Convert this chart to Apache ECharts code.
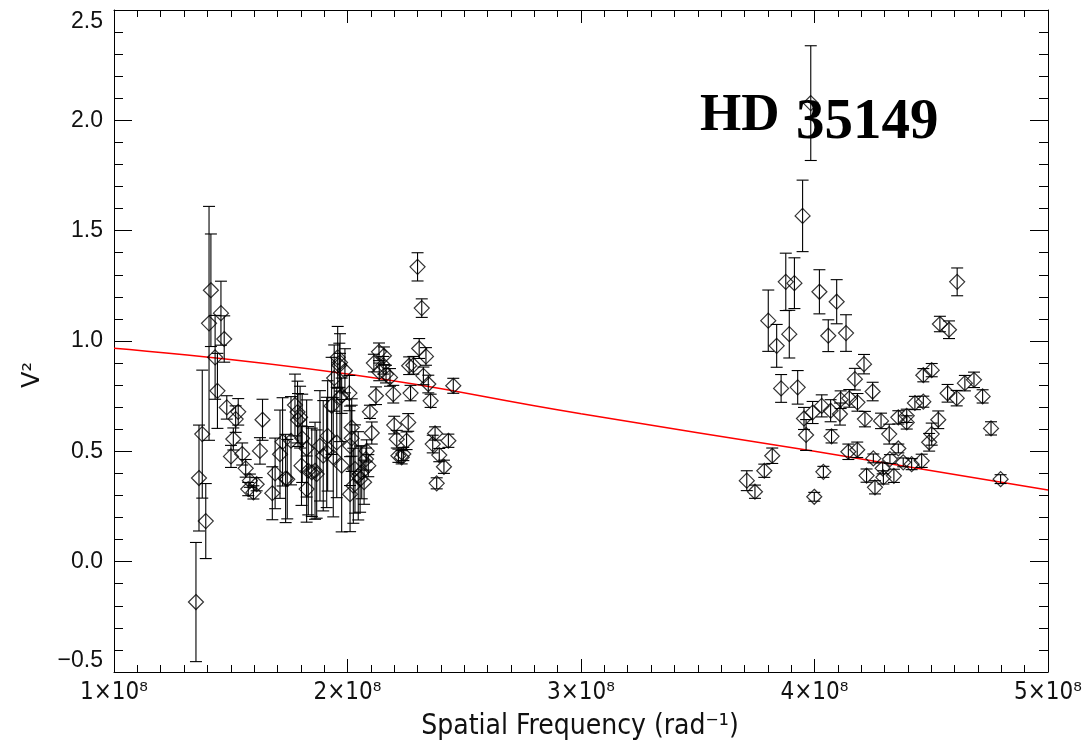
<!DOCTYPE html>
<html lang="en">
<head>
<meta charset="UTF-8">
<title>HD 35149 V2</title>
<script src="https://cdn.jsdelivr.net/npm/echarts@6/dist/echarts.min.js"></script>
<style>
  html, body { margin: 0; padding: 0; background: #fff; }
  #chart { width: 1090px; height: 748px; }
</style>
</head>
<body>
<div id="chart"></div>
<script>
// spatial frequency, in units of 1e8 rad^-1
const freq = [
  1.351, 1.364, 1.378, 1.393, 1.407, 1.415, 1.433, 1.443, 1.458, 1.472,
  1.483, 1.532, 1.521, 1.511, 1.501, 1.549, 1.564, 1.582, 1.575, 1.597,
  1.611, 1.636, 1.625, 1.678, 1.690, 1.711, 1.722, 1.735, 1.758, 1.742,
  1.775, 1.786, 1.797, 1.788, 1.806, 1.825, 1.803, 1.832, 1.847, 1.861,
  1.868, 1.825, 1.882, 1.896, 1.911, 1.915, 1.932, 1.939, 1.954, 1.943,
  1.958, 1.968, 1.968, 1.975, 1.965, 1.989, 1.975, 2.008, 2.018, 2.018,
  2.011, 2.032, 2.046, 2.061, 2.054, 2.025, 2.011, 2.082, 2.079, 2.089,
  2.071, 2.096, 2.104, 2.122, 2.135, 2.156, 2.113, 2.153, 2.136, 2.165,
  2.182, 2.196, 2.200, 2.211, 2.218, 2.232, 2.239, 2.253, 2.260, 2.264,
  2.270, 2.282, 2.300, 2.318, 2.307, 2.336, 2.325, 2.346, 2.356, 2.375,
  2.365, 2.393, 2.413, 2.382, 2.432, 2.453,
  3.710, 3.745, 3.785, 3.819, 3.802, 3.838, 3.857, 3.877, 3.892, 3.914,
  3.928, 3.949, 3.955, 3.964, 3.984, 3.992, 3.999, 4.021, 4.031, 4.038,
  4.059, 4.069, 4.073, 4.095, 4.109, 4.112, 4.135, 4.145, 4.149, 4.173,
  4.183, 4.184, 4.212, 4.216, 4.223, 4.249, 4.252, 4.259, 4.285, 4.295,
  4.292, 4.320, 4.323, 4.340, 4.359, 4.359, 4.380, 4.395, 4.395, 4.416,
  4.430, 4.459, 4.466, 4.466, 4.491, 4.502, 4.502, 4.530, 4.537, 4.570,
  4.576, 4.609, 4.611, 4.644, 4.683, 4.720, 4.756, 4.797
];
const vis2 = [
  -0.183, 0.379, 0.578, 0.184, 1.080, 1.230, 0.926, 0.774, 1.126, 1.009,
  0.699, 0.679, 0.646, 0.556, 0.477, 0.488, 0.423, 0.367, 0.329, 0.314,
  0.351, 0.643, 0.502, 0.310, 0.400, 0.487, 0.543, 0.377, 0.548, 0.374,
  0.710, 0.678, 0.655, 0.642, 0.559, 0.513, 0.435, 0.412, 0.405, 0.412,
  0.397, 0.329, 0.525, 0.480, 0.495, 0.570, 0.706, 0.473, 0.540, 0.832,
  0.926, 0.903, 0.744, 0.435, 0.890, 0.865, 0.752, 0.764, 0.608, 0.559,
  0.525, 0.420, 0.389, 0.405, 0.374, 0.344, 0.306, 0.502, 0.465, 0.435,
  0.360, 0.679, 0.583, 0.752, 0.951, 0.933, 0.900, 0.890, 0.860, 0.850,
  0.835, 0.759, 0.619, 0.555, 0.480, 0.473, 0.488, 0.548, 0.631, 0.888,
  0.764, 0.890, 1.336, 1.149, 0.966, 0.930, 0.842, 0.805, 0.729, 0.581,
  0.533, 0.483, 0.430, 0.355, 0.548, 0.797,
  0.367, 0.317, 0.412, 0.480, 1.092, 0.978, 0.785, 1.268, 1.031, 1.262,
  0.790, 1.567, 0.649, 0.574, 2.078, 0.676, 0.294, 1.223, 0.706, 0.407,
  1.024, 0.684, 0.568, 1.178, 0.669, 0.734, 1.036, 0.498, 0.740, 0.827,
  0.507, 0.722, 0.895, 0.646, 0.390, 0.771, 0.468, 0.337, 0.638, 0.382,
  0.423, 0.578, 0.465, 0.389, 0.654, 0.513, 0.450, 0.661, 0.631, 0.442,
  0.719, 0.457, 0.725, 0.845, 0.541, 0.578, 0.868, 0.643, 1.077, 0.763,
  1.051, 0.741, 1.268, 0.809, 0.824, 0.749, 0.604, 0.374
];
const vis2Err = [
  0.27, 0.24, 0.29, 0.17, 0.53, 0.255, 0.19, 0.17, 0.145, 0.105,
  0.053, 0.06, 0.06, 0.05, 0.05, 0.05, 0.04, 0.03, 0.03, 0.03,
  0.03, 0.093, 0.06, 0.12, 0.16, 0.20, 0.20, 0.20, 0.20, 0.18,
  0.14, 0.14, 0.14, 0.12, 0.20, 0.22, 0.18, 0.20, 0.20, 0.22,
  0.20, 0.15, 0.25, 0.25, 0.25, 0.25, 0.22, 0.27, 0.25, 0.15,
  0.14, 0.13, 0.20, 0.30, 0.10, 0.10, 0.08, 0.08, 0.13, 0.15,
  0.18, 0.20, 0.20, 0.12, 0.15, 0.17, 0.17, 0.05, 0.05, 0.05,
  0.10, 0.03, 0.05, 0.04, 0.04, 0.04, 0.04, 0.04, 0.04, 0.04,
  0.04, 0.04, 0.04, 0.04, 0.03, 0.03, 0.03, 0.04, 0.04, 0.04,
  0.035, 0.04, 0.064, 0.042, 0.045, 0.04, 0.04, 0.04, 0.03, 0.03,
  0.04, 0.03, 0.03, 0.025, 0.03, 0.034,
  0.045, 0.03, 0.03, 0.035, 0.139, 0.097, 0.063, 0.13, 0.108, 0.115,
  0.076, 0.162, 0.05, 0.07, 0.26, 0.05, 0.02, 0.10, 0.05, 0.025,
  0.072, 0.05, 0.03, 0.10, 0.05, 0.04, 0.083, 0.035, 0.04, 0.049,
  0.035, 0.04, 0.044, 0.035, 0.03, 0.042, 0.02, 0.03, 0.035, 0.03,
  0.025, 0.045, 0.02, 0.03, 0.03, 0.02, 0.02, 0.03, 0.03, 0.025,
  0.03, 0.03, 0.025, 0.03, 0.04, 0.05, 0.03, 0.04, 0.035, 0.04,
  0.04, 0.035, 0.063, 0.035, 0.035, 0.03, 0.03, 0.02
];
// red model curve
const modelFreq = [1.0, 2.0, 3.0, 4.0, 5.0];
const modelVis2 = [0.967, 0.850, 0.670, 0.500, 0.325];

const starName = 'HD';
const starNumber = '35149';

const chart = echarts.init(document.getElementById('chart'));

const points = freq.map((f, i) => [f, vis2[i], vis2Err[i]]);
const narrowFont = '"Liberation Sans Narrow", "DejaVu Sans Condensed", sans-serif';

function errBar(params, api) {
  const x = api.value(0), y = api.value(1), e = api.value(2);
  const top = api.coord([x, y + e]);
  const bot = api.coord([x, y - e]);
  const hw = 6;
  const st = { stroke: '#000', lineWidth: 1.1 };
  return {
    type: 'group',
    children: [
      { type: 'line', shape: { x1: top[0], y1: top[1], x2: bot[0], y2: bot[1] }, style: st },
      { type: 'line', shape: { x1: top[0] - hw, y1: top[1], x2: top[0] + hw, y2: top[1] }, style: st },
      { type: 'line', shape: { x1: bot[0] - hw, y1: bot[1], x2: bot[0] + hw, y2: bot[1] }, style: st }
    ]
  };
}

const xCommon = {
  type: 'value', min: 1, max: 5, interval: 1,
  axisLine: { show: true, onZero: false, lineStyle: { color: '#000', width: 1 } },
  axisTick: { show: true, inside: true, length: 13, lineStyle: { color: '#000' } },
  minorTick: { show: true, splitNumber: 10, length: 7, lineStyle: { color: '#000' } },
  splitLine: { show: false }
};
const yCommon = {
  type: 'value', min: -0.5, max: 2.5, interval: 0.5,
  axisLine: { show: true, onZero: false, lineStyle: { color: '#000', width: 1 } },
  axisTick: { show: true, inside: true, length: 18, lineStyle: { color: '#000' } },
  minorTick: { show: true, splitNumber: 5, length: 9, lineStyle: { color: '#000' } },
  splitLine: { show: false }
};

const options = {
  animation: false,
  backgroundColor: '#fff',
  grid: { left: 114, right: 42, top: 10, bottom: 76 },
  xAxis: [
    Object.assign({}, xCommon, {
      position: 'bottom',
      axisLabel: {
        margin: 9, fontSize: 24, fontFamily: narrowFont, color: '#111',
        formatter: v => v + '×10\u2078'
      }
    }),
    Object.assign({}, xCommon, { position: 'top', axisLabel: { show: false } })
  ],
  yAxis: [
    Object.assign({}, yCommon, {
      position: 'left',
      axisLabel: {
        margin: 11, fontSize: 23, fontFamily: '"Liberation Sans", sans-serif', color: '#111',
        verticalAlignMinLabel: 'bottom',
        verticalAlignMaxLabel: 'top',
        formatter: v => (v < 0 ? '\u2212' + Math.abs(v).toFixed(1) : v.toFixed(1))
      }
    }),
    Object.assign({}, yCommon, { position: 'right', axisLabel: { show: false } })
  ],
  graphic: [
    {
      type: 'text', x: 700, y: 143,
      style: { text: starName, font: 'bold 53px "Liberation Serif", serif', fill: '#000', verticalAlign: 'bottom' }
    },
    {
      type: 'text', x: 796, y: 152,
      style: { text: starNumber, font: 'bold 57px "Liberation Serif", serif', fill: '#000', verticalAlign: 'bottom' }
    },
    {
      type: 'text', x: 33, y: 375, rotation: Math.PI / 2,
      style: { text: 'V\u00b2', fill: '#111', align: 'center', verticalAlign: 'middle',
        font: '24px "DejaVu Sans", sans-serif' }
    },
    {
      type: 'text', x: 580, y: 727,
      style: { text: 'Spatial Frequency (rad\u207b\u00b9)', fill: '#111', align: 'center', verticalAlign: 'middle',
        font: '28px ' + narrowFont }
    }
  ],
  series: [
    {
      type: 'line',
      data: modelFreq.map((f, i) => [f, modelVis2[i]]),
      smooth: true,
      showSymbol: false,
      lineStyle: { color: '#ff0000', width: 1.5 },
      z: 1
    },
    {
      type: 'custom',
      renderItem: errBar,
      data: points,
      z: 2
    },
    {
      type: 'scatter',
      data: points.map(p => [p[0], p[1]]),
      symbol: 'diamond',
      symbolSize: 15,
      itemStyle: { color: 'rgba(0,0,0,0)', borderColor: '#000', borderWidth: 1.2 },
      z: 3
    }
  ]
};

chart.setOption(options);
</script>
</body>
</html>
